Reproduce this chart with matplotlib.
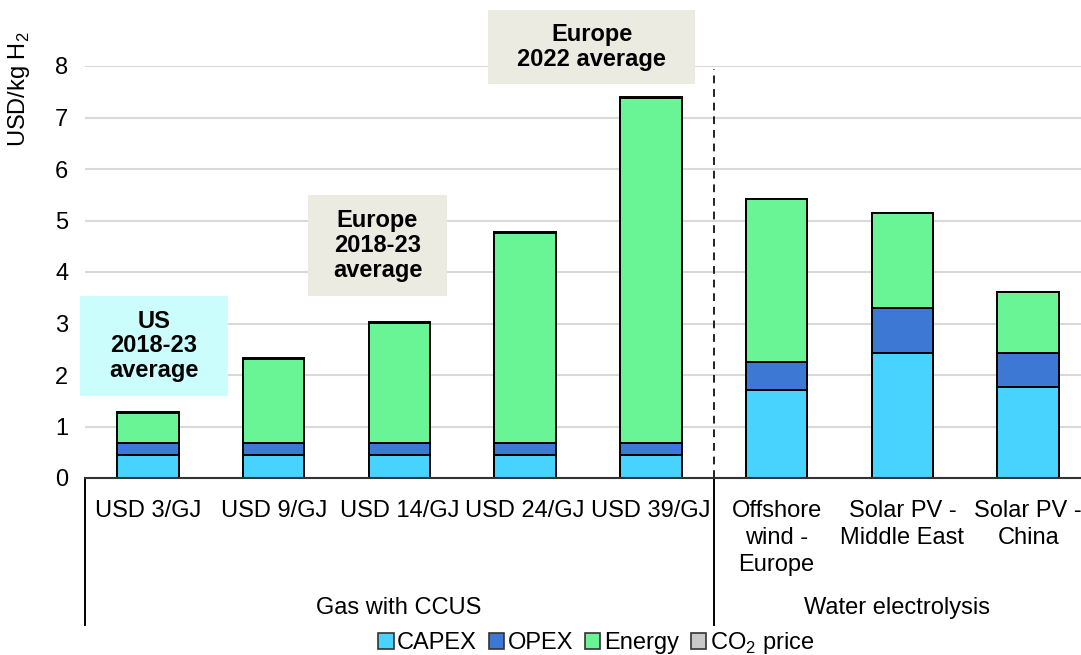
import matplotlib
matplotlib.use("Agg")
import matplotlib.pyplot as plt
from matplotlib.patches import Patch, Rectangle
import numpy as np

plt.rcParams['font.family'] = ['Liberation Sans', 'DejaVu Sans']
plt.rcParams['mathtext.fontset'] = 'custom'
plt.rcParams['mathtext.rm'] = 'Liberation Sans'

categories = ["USD 3/GJ", "USD 9/GJ", "USD 14/GJ", "USD 24/GJ", "USD 39/GJ",
              "Offshore\nwind -\nEurope", "Solar PV -\nMiddle East", "Solar PV -\nChina"]
groups = ["Gas with CCUS", "Water electrolysis"]
capex = [0.45, 0.45, 0.45, 0.45, 0.45, 1.71, 2.43, 1.77]
opex = [0.23, 0.23, 0.23, 0.23, 0.23, 0.54, 0.87, 0.66]
energy = [0.58, 1.63, 2.33, 4.08, 6.70, 3.17, 1.85, 1.18]
co2 = [0.02, 0.02, 0.02, 0.02, 0.02, 0.0, 0.0, 0.0]
series_names = ["CAPEX", "OPEX", "Energy", "CO$_2$ price"]
colors = ["#47d3fd", "#3c78d4", "#69f595", "#c9c9c9"]
yticks = [0, 1, 2, 3, 4, 5, 6, 7, 8]

FS = 17
W, H = 1081, 655
fig = plt.figure(figsize=(W / 100, H / 100), dpi=100)
ax = fig.add_axes([85 / W, 1 - 478 / H, (W - 85) / W, (478 - 66) / H])

x = np.arange(len(categories))
bottom = np.zeros(len(categories))
for vals, c in zip([capex, opex, energy, co2], colors):
    ax.bar(x, vals, 0.49, bottom=bottom, color=c, edgecolor='black', linewidth=1.4, zorder=3)
    bottom += np.array(vals)

ax.set_xlim(-0.5, 7.42)
ax.set_ylim(0, 8)
ax.set_yticks(yticks)
ax.set_yticklabels([str(t) for t in yticks], fontsize=FS)
ax.grid(axis='y', color='#d9d9d9', linewidth=1.5, zorder=0)
ax.set_axisbelow(True)
for s in ['left', 'top', 'right']:
    ax.spines[s].set_visible(False)
ax.spines['bottom'].set_color('#333333')
ax.spines['bottom'].set_linewidth(1.5)
ax.spines['bottom'].set_zorder(4)
ax.tick_params(axis='y', length=0, pad=12)
ax.set_xticks(x)
ax.set_xticklabels(categories, fontsize=FS, linespacing=1.3)
ax.tick_params(axis='x', length=0, pad=16)

# dashed separator in plot
ax.plot([4.5, 4.5], [0, 7.95], color='#222222', linestyle=(0, (4, 3)), linewidth=1.4, zorder=2)

# group separators below axis
sep_bottom = -(625 - 478) / (478 - 66)
for xv in [-0.5, 4.5]:
    ax.plot([xv, xv], [0, sep_bottom], transform=ax.get_xaxis_transform(),
            color='black', linewidth=1.4, clip_on=False)

fig.text(399 / W, 1 - 608 / H, groups[0], ha='center', va='center', fontsize=FS)
fig.text(897 / W, 1 - 608 / H, groups[1], ha='center', va='center', fontsize=FS)

fig.text(19 / W, 1 - 89 / H, r'USD/kg H$_\mathregular{2}$', rotation=90, ha='center', va='center', fontsize=FS)

# annotation boxes
boxes = [
    ((80, 296, 228, 396), "#ccfdfd", "US\n2018-23\naverage"),
    ((308, 195, 447, 296), "#ecebe1", "Europe\n2018-23\naverage"),
    ((488, 10, 695, 84), "#ecebe1", "Europe\n2022 average"),
]
for (x0, y0, x1, y1), fc, txt in boxes:
    fig.patches.append(Rectangle((x0 / W, 1 - y1 / H), (x1 - x0) / W, (y1 - y0) / H,
                                 transform=fig.transFigure, facecolor=fc, edgecolor='none', zorder=5))
    fig.text((x0 + x1) / 2 / W, 1 - (y0 + y1) / 2 / H, txt, ha='center', va='center',
             fontsize=FS, fontweight='bold', linespacing=1.1, zorder=6)

handles = [Patch(facecolor=c, edgecolor='#333333', linewidth=1.2) for c in colors]
fig.legend(handles, series_names, loc='center', bbox_to_anchor=(596 / W, 1 - 643 / H),
           ncol=4, frameon=False, fontsize=FS, handlelength=0.65, handleheight=0.65,
           columnspacing=0.5, handletextpad=0.15, borderpad=0)

fig.savefig("out.png", dpi=100)
